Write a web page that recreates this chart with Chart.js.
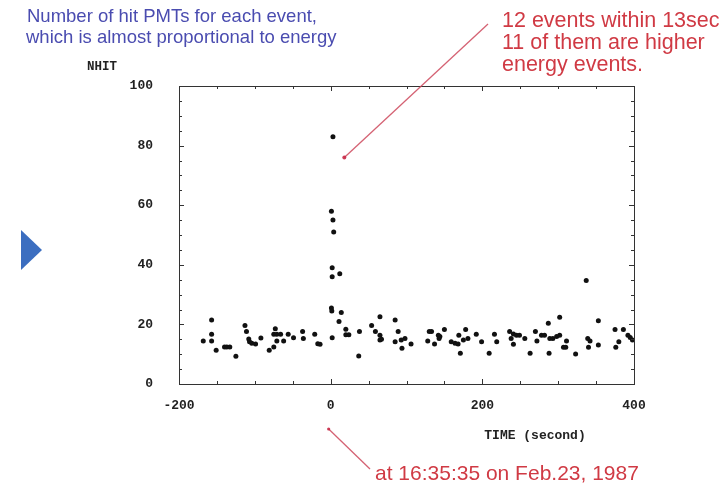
<!DOCTYPE html>
<html>
<head>
<meta charset="utf-8">
<script src="https://cdn.jsdelivr.net/npm/chart.js@4/dist/chart.umd.min.js"></script>
<style>
  html, body { margin: 0; padding: 0; background: #fff; }
  #wrap { width: 722px; height: 486px; position: relative; overflow: hidden; }
  #c { filter: blur(0.35px); }
</style>
</head>
<body>
<div id="wrap"><canvas id="c" width="722" height="486"></canvas></div>
<script>
// Event arrival time relative to 16:35:35 (seconds)
const eventTimes = [
  -168, -157, -157, -157, -151, -140, -137, -133, -125, -113, -111, -108, -107, -104, -99,
  -92, -81, -75, -73, -75, -71, -66, -71, -62, -56, -49, -37, -36, -21, -17, -14,
  1, 2, 1, 1.5, 2, 2, 3, 3, 4, 12, 14, 11,
  20, 20, 24, 38, 37, 54, 59, 65, 65, 65, 67, 85, 89, 85, 93, 98, 94, 106,
  130, 133, 128, 137, 142, 144, 143, 150, 159, 164, 168, 171, 169, 178, 175, 181,
  192, 199, 209, 216, 219, 236, 241, 245, 249, 241, 238, 256, 263, 270, 272, 278, 282,
  287, 289, 293, 298, 288, 302, 302, 307, 310, 311, 323, 337, 339, 342, 340, 353, 353,
  375, 376, 380, 386, 392, 395, 398
];
// Number of hit PMTs for each event
const eventHits = [
  14.4, 21.5, 16.7, 14.4, 11.3, 12.4, 12.4, 12.4, 9.3, 19.6, 17.6, 15.1, 14.2, 13.7, 13.4,
  15.4, 11.3, 12.4, 18.5, 16.7, 16.7, 16.7, 14.4, 14.4, 16.7, 15.5, 17.6, 15.3, 16.7, 13.5, 13.3,
  58, 36, 25.5, 24.5, 39, 15.5, 83, 55, 51, 37, 24, 21,
  18.4, 16.5, 16.5, 17.6, 9.4, 19.6, 17.6, 22.6, 16.4, 14.8, 15, 21.5, 17.6, 14.2, 14.8, 15.3, 12, 13.4,
  17.6, 17.6, 14.4, 13.4, 16.4, 15.9, 15.3, 18.3, 14.2, 13.7, 13.4, 10.3, 16.4, 18.3, 14.8, 15.3,
  16.7, 14.2, 10.3, 16.7, 14.2, 17.6, 16.8, 16.4, 16.4, 13.3, 15.3, 15.3, 10.3, 17.6, 14.4, 16.4, 16.4,
  20.4, 15.3, 15.3, 15.9, 10.3, 16.4, 22.4, 12.3, 12.3, 14.4, 10.1, 34.7, 15.3, 14.4, 12.3, 21.2, 13.1,
  18.3, 12.3, 14.2, 18.3, 16.4, 15.6, 14.8
];

const xTickLabels = [-200, 0, 200, 400];
const yTickLabels = [0, 20, 40, 60, 80, 100];
const xMinorStep = 50;
const yMinorStep = 5;

const titleLines = ['Number of hit PMTs for each event,', 'which is almost proportional to energy'];
const burstNote = ['12 events within 13sec', '11 of them are higher', 'energy events.'];
const timeNote = 'at 16:35:35 on Feb.23, 1987';
const yAxisName = 'NHIT';
const xAxisName = 'TIME (second)';

const points = eventTimes.map((t, i) => ({ x: t, y: eventHits[i] }));

const axisFont = { family: 'Liberation Mono', size: 13, weight: 'bold' };
const ink = '#222';
const noteRed = '#d03a44';
const titleBlue = '#4a4cb0';

// Frame on the top/right edges plus inward tick marks on all four sides
const framePlugin = {
  id: 'framePlugin',
  afterDatasetsDraw(chart) {
    const { ctx, chartArea: a, scales: { x, y } } = chart;
    ctx.save();
    ctx.strokeStyle = '#333';
    ctx.lineWidth = 1;
    ctx.beginPath();
    ctx.moveTo(a.left, a.top + 0.5);
    ctx.lineTo(a.right + 0.5, a.top + 0.5);
    ctx.lineTo(a.right + 0.5, a.bottom);
    ctx.stroke();
    ctx.beginPath();
    for (let v = x.min; v <= x.max; v += xMinorStep) {
      const px = Math.round(x.getPixelForValue(v)) + 0.5;
      const len = xTickLabels.includes(v) ? 5 : 3;
      ctx.moveTo(px, a.bottom); ctx.lineTo(px, a.bottom - len);
      ctx.moveTo(px, a.top); ctx.lineTo(px, a.top + len);
    }
    for (let v = y.min; v <= y.max; v += yMinorStep) {
      const py = Math.round(y.getPixelForValue(v)) + 0.5;
      const len = yTickLabels.includes(v) ? 5 : 3;
      ctx.moveTo(a.left, py); ctx.lineTo(a.left + len, py);
      ctx.moveTo(a.right, py); ctx.lineTo(a.right - len, py);
    }
    ctx.stroke();
    ctx.restore();
  },
  afterDraw(chart) {
    const { ctx, chartArea: a, scales: { x, y } } = chart;
    ctx.save();

    // axis names
    ctx.fillStyle = ink;
    ctx.font = 'bold 12.5px "Liberation Mono"';
    ctx.textBaseline = 'alphabetic';
    ctx.textAlign = 'left';
    ctx.fillText(yAxisName, 87, 70);
    ctx.font = 'bold 13px "Liberation Mono"';
    ctx.textAlign = 'center';
    ctx.fillText(xAxisName, 535, 439);

    // blue heading
    ctx.fillStyle = titleBlue;
    ctx.font = '18.5px "Liberation Sans"';
    ctx.textAlign = 'left';
    ctx.fillText(titleLines[0], 27, 22);
    ctx.fillText(titleLines[1], 26, 43);

    // red notes
    ctx.fillStyle = noteRed;
    ctx.font = '21.5px "Liberation Sans"';
    ctx.fillText(burstNote[0], 502, 27);
    ctx.fillText(burstNote[1], 502, 49);
    ctx.fillText(burstNote[2], 502, 71);
    ctx.font = '21px "Liberation Sans"';
    ctx.fillText(timeNote, 375, 480);

    // arrow to the burst
    ctx.strokeStyle = 'rgba(205,70,90,0.85)';
    ctx.lineWidth = 1.3;
    const tipX = x.getPixelForValue(18), tipY = y.getPixelForValue(76);
    ctx.beginPath();
    ctx.moveTo(488, 24);
    ctx.lineTo(tipX, tipY);
    ctx.stroke();
    ctx.fillStyle = 'rgba(200,40,70,0.9)';
    ctx.beginPath(); ctx.arc(tipX, tipY, 2, 0, Math.PI * 2); ctx.fill();

    // arrow to time zero
    const zx = x.getPixelForValue(0) - 2;
    const zy = a.bottom + 45;
    ctx.beginPath();
    ctx.moveTo(370, 469);
    ctx.lineTo(zx, zy);
    ctx.stroke();
    ctx.beginPath(); ctx.arc(zx, zy, 1.6, 0, Math.PI * 2); ctx.fill();

    // slide marker
    ctx.fillStyle = '#3b6ec0';
    ctx.beginPath();
    ctx.moveTo(21, 230); ctx.lineTo(42, 250); ctx.lineTo(21, 270);
    ctx.closePath(); ctx.fill();

    ctx.restore();
  }
};

new Chart(document.getElementById('c'), {
  type: 'scatter',
  data: {
    datasets: [{
      data: points,
      pointRadius: 2.5,
      pointHoverRadius: 2.5,
      pointBackgroundColor: '#111',
      pointBorderWidth: 0,
      clip: false
    }]
  },
  options: {
    responsive: false,
    animation: false,
    events: [],
    layout: { padding: { left: 0, right: 88, top: 86, bottom: 0 } },
    plugins: { legend: { display: false }, tooltip: { enabled: false } },
    scales: {
      x: {
        type: 'linear',
        min: -200, max: 400,
        afterFit(s) { s.height = 102; },
        afterBuildTicks(s) { s.ticks = xTickLabels.map(v => ({ value: v })); },
        grid: { display: true, drawOnChartArea: false, drawTicks: false },
        border: { display: true, color: '#333', width: 1 },
        ticks: { font: axisFont, color: ink, padding: 14, maxRotation: 0, autoSkip: false }
      },
      y: {
        type: 'linear',
        min: 0, max: 100,
        afterFit(s) { s.width = 179; },
        afterBuildTicks(s) { s.ticks = yTickLabels.map(v => ({ value: v })); },
        grid: { display: true, drawOnChartArea: false, drawTicks: false },
        border: { display: true, color: '#333', width: 1 },
        ticks: { font: axisFont, color: ink, padding: 26, autoSkip: false }
      }
    }
  },
  plugins: [framePlugin]
});
</script>
</body>
</html>
